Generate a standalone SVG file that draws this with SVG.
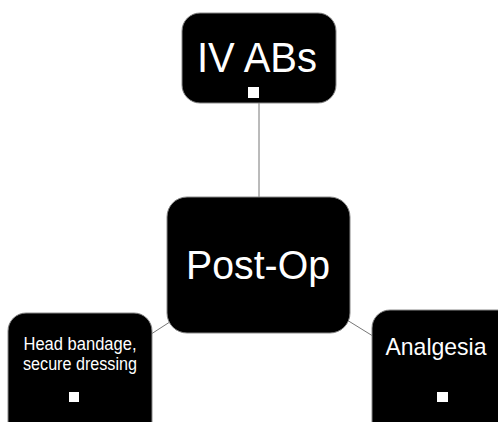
<svg xmlns="http://www.w3.org/2000/svg" width="498" height="422" viewBox="0 0 498 422">
<style>
.box{fill:#000;stroke:#888;stroke-width:1}
.t{fill:#fff;font-family:"Liberation Sans",Arial,sans-serif;text-anchor:middle}
.sq{fill:#fff}
.c{stroke:#777;stroke-width:1;fill:none}
</style>
<rect width="498" height="422" fill="#fff"/>
<g id="connectors">
<line class="c" x1="259" y1="100" x2="259" y2="200"/>
<line class="c" x1="258" y1="265" x2="80" y2="380"/>
<line class="c" x1="258" y1="265" x2="444" y2="380"/>
</g>
<g id="ivabs">
<rect class="box" x="182" y="13" width="154" height="90" rx="18"/>
<text class="t" x="257" y="72" font-size="42" textLength="120" lengthAdjust="spacingAndGlyphs">IV ABs</text>
<rect class="sq" x="248" y="87" width="11" height="11"/>
</g>
<g id="postop">
<rect class="box" x="167" y="197" width="183" height="136" rx="20"/>
<text class="t" x="258" y="279" font-size="41" textLength="144" lengthAdjust="spacingAndGlyphs">Post-Op</text>
</g>
<g id="head">
<rect class="box" x="8" y="313" width="144" height="140" rx="18"/>
<text class="t" x="80" y="350" font-size="17.5" textLength="113" lengthAdjust="spacingAndGlyphs">Head bandage,</text>
<text class="t" x="80" y="370" font-size="17.5" textLength="114" lengthAdjust="spacingAndGlyphs">secure dressing</text>
<rect class="sq" x="69" y="392" width="10" height="10"/>
</g>
<g id="analgesia">
<rect class="box" x="372" y="310" width="144" height="140" rx="18"/>
<text class="t" x="436" y="355" font-size="24" textLength="101" lengthAdjust="spacingAndGlyphs">Analgesia</text>
<rect class="sq" x="437" y="392" width="11" height="10"/>
</g>
</svg>
